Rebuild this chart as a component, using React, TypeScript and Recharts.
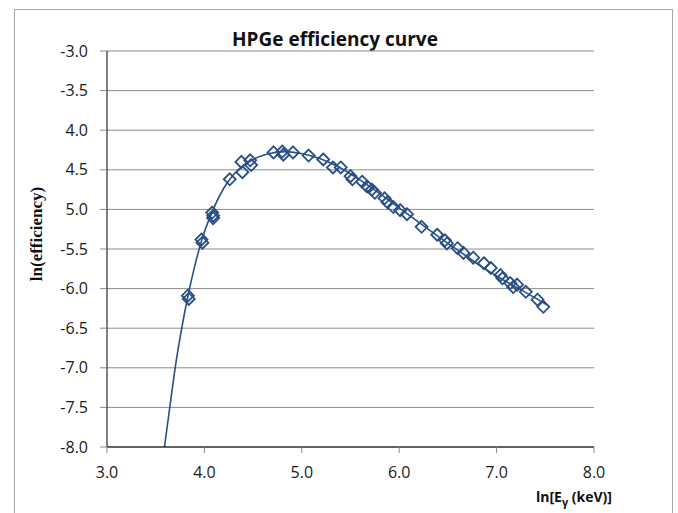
import React from 'react';
import { ComposedChart, Scatter, Line, XAxis, YAxis, CartesianGrid } from 'recharts';

const xTicks = [3, 4, 5, 6, 7, 8];
const yTicks = [-8, -7.5, -7, -6.5, -6, -5.5, -5, -4.5, -4, -3.5, -3];
const yTickLabels = ['-8.0', '-7.5', '-7.0', '-6.5', '-6.0', '-5.5', '5.0', '4.5', '4.0', '-3.5', '-3.0'];

const measuredX = [
  3.83, 3.84, 3.97, 3.98, 4.08, 4.09, 4.09, 4.26, 4.38, 4.39, 4.47, 4.48,
  4.71, 4.80, 4.81, 4.91, 5.07, 5.22, 5.32, 5.40, 5.50, 5.52, 5.62, 5.67,
  5.72, 5.75, 5.85, 5.88, 5.94, 6.01, 6.08, 6.23, 6.39, 6.47, 6.49, 6.60,
  6.66, 6.76, 6.87, 6.94, 7.04, 7.06, 7.14, 7.17, 7.21, 7.30, 7.42, 7.48,
];
const measuredY = [
  -6.09, -6.13, -5.38, -5.42, -5.04, -5.08, -5.11, -4.62, -4.40, -4.53, -4.38, -4.44,
  -4.28, -4.27, -4.31, -4.28, -4.32, -4.37, -4.47, -4.47, -4.58, -4.62, -4.65, -4.71,
  -4.75, -4.79, -4.86, -4.91, -4.97, -5.01, -5.06, -5.22, -5.32, -5.39, -5.43, -5.49,
  -5.55, -5.61, -5.68, -5.74, -5.83, -5.87, -5.93, -5.98, -5.95, -6.04, -6.14, -6.23,
];

const fitX = [3.59, 3.65, 3.70, 3.76, 3.83, 3.90, 3.97, 4.09, 4.20, 4.30, 4.42, 4.55, 4.68, 4.83, 4.98, 5.19, 5.39, 5.60, 5.80, 6.01, 6.22, 6.42, 6.62, 6.83, 7.04, 7.24, 7.40, 7.52];
const fitY = [-8.0, -7.45, -7.0, -6.55, -6.1, -5.72, -5.40, -5.00, -4.73, -4.56, -4.43, -4.34, -4.29, -4.27, -4.29, -4.36, -4.47, -4.63, -4.80, -4.99, -5.18, -5.36, -5.53, -5.71, -5.87, -6.01, -6.12, -6.21];

const points = measuredX.map((x, i) => ({ x, y: measuredY[i] }));
const curve = fitX.map((x, i) => ({ x, y: fitY[i] }));

const BLUE = '#2A4F85';

const Diamond = (props: any) => {
  const { cx, cy } = props;
  if (cx == null || cy == null) return null;
  const r = 6;
  return (
    <polygon
      points={`${cx},${cy - r} ${cx + r},${cy} ${cx},${cy + r} ${cx - r},${cy}`}
      fill="none"
      stroke={BLUE}
      strokeWidth={1.8}
    />
  );
};

const tickStyle = { fontSize: 16, fill: '#1a1a1a', fontFamily: 'Open Sans, sans-serif' };

const XLabel = (props: any) => {
  const vb = props.viewBox;
  const right = vb.x + vb.width + 18;
  return (
    <text x={right} y={vb.y + 55} textAnchor="end" style={{ fontFamily: 'Open Sans, sans-serif', fontWeight: 700, fontSize: 14 }} fill="#111">
      ln[E<tspan style={{ fontSize: 11 }} dy={4}>γ</tspan><tspan dy={-4}> (keV)]</tspan>
    </text>
  );
};

const YLabel = (props: any) => {
  const vb = props.viewBox;
  const cx = 36;
  const cy = vb.y + vb.height / 2 - 15;
  return (
    <text x={cx} y={cy} transform={`rotate(-90 ${cx} ${cy})`} textAnchor="middle" dominantBaseline="central" style={{ fontFamily: 'Liberation Serif, DejaVu Serif, serif', fontWeight: 700, fontSize: 17 }} fill="#111">
      ln(efficiency)
    </text>
  );
};

export default function App() {
  return (
    <div style={{ position: 'absolute', left: 0, top: 0, width: 678, height: 513, background: '#fff', overflow: 'hidden' }}>
      <div style={{ position: 'absolute', left: 14, top: 9, width: 657, height: 520, border: '1px solid #a8a8a8' }} />
      <div style={{ position: 'absolute', left: 0, top: 26, width: 670, textAlign: 'center', fontFamily: 'Open Sans, sans-serif', fontWeight: 'bold', fontSize: 19, color: '#111' }}>
        HPGe efficiency curve
      </div>
      <div style={{ position: 'absolute', left: 0, top: 0 }}>
        <ComposedChart width={678} height={513} margin={{ top: 51, right: 84, bottom: 36, left: 47 }}>
          <CartesianGrid vertical={false} stroke="#8c8c8c" strokeWidth={1} />
          <XAxis
            type="number"
            dataKey="x"
            domain={[3, 8]}
            ticks={xTicks}
            interval={0}
            height={30}
            allowDataOverflow
            tickFormatter={(v: number) => v.toFixed(1)}
            axisLine={{ stroke: '#000', strokeWidth: 1 }}
            tickLine={{ stroke: '#888' }}
            tickSize={6}
            tickMargin={14}
            tick={tickStyle}
            label={{ content: <XLabel /> }}
          />
          <YAxis
            type="number"
            dataKey="y"
            domain={[-8, -3]}
            ticks={yTicks}
            interval={0}
            width={60}
            allowDataOverflow
            tickFormatter={(v: number) => yTickLabels[yTicks.indexOf(v)]}
            axisLine={{ stroke: '#000', strokeWidth: 1 }}
            tickLine={{ stroke: '#888' }}
            tickSize={7}
            tickMargin={12}
            tick={tickStyle}
            label={{ content: <YLabel /> }}
          />
          <Line data={curve} dataKey="y" type="monotone" dot={false} stroke={BLUE} strokeWidth={1.6} isAnimationActive={false} />
          <Scatter data={points} dataKey="y" shape={<Diamond />} isAnimationActive={false} />
        </ComposedChart>
      </div>
    </div>
  );
}
